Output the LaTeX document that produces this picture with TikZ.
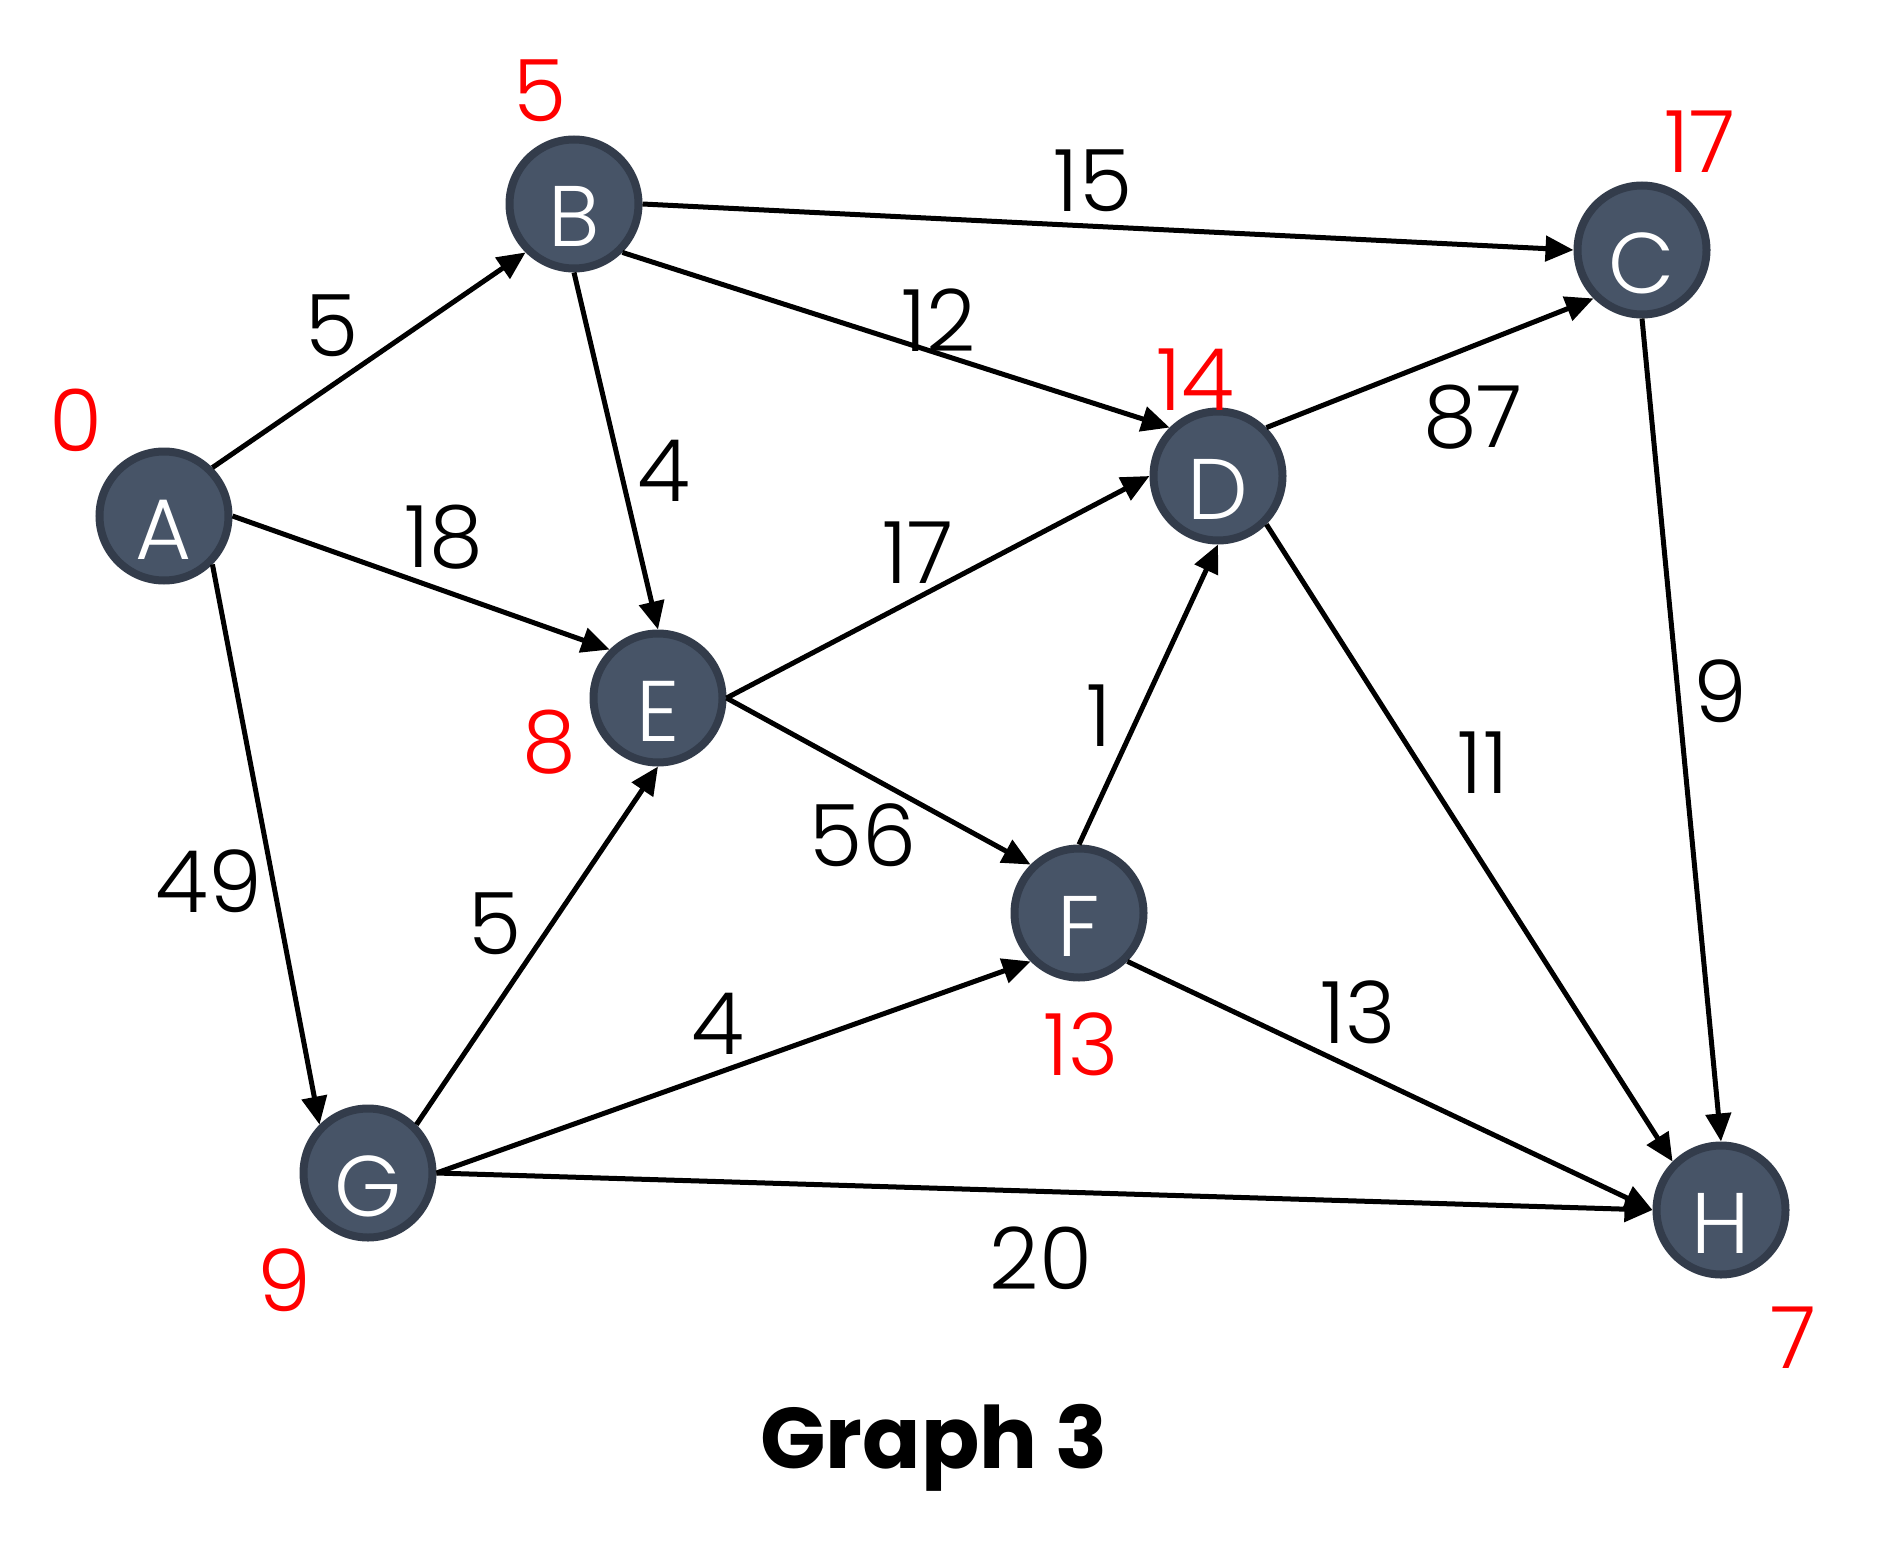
\documentclass[tikz,border=0pt]{standalone}
\usepackage{fontspec}
\setmainfont{Poppins}[UprightFont=* Light, BoldFont=* Bold]
\usetikzlibrary{arrows.meta}
\definecolor{nodefill}{HTML}{475467}
\definecolor{nodeedge}{HTML}{333C4B}
\definecolor{distred}{HTML}{FF0000}
\tikzset{
  vert/.style={circle, fill=nodefill, draw=nodeedge, line width=8pt, minimum size=129pt, inner sep=0pt, text=white, font=\fontsize{86}{96}\selectfont, text height=86pt, text depth=0pt},
  edge/.style={line width=5pt, -{Triangle[length=28pt, width=25pt]}},
  wlab/.style={font=\fontsize{86}{96}\selectfont, text=black, inner sep=0pt},
  dlab/.style={font=\fontsize{86}{96}\selectfont, text=distred, inner sep=0pt},
}
\begin{document}
\begin{tikzpicture}[x=1pt,y=-1pt]
\useasboundingbox (0,0) rectangle (1893,1549);
\node[vert] (A) at (164,516) {A};
\node[vert] (B) at (574,204) {B};
\node[vert] (C) at (1642,250) {C};
\node[vert] (D) at (1218,476) {D};
\node[vert] (E) at (658,698) {E};
\node[vert] (F) at (1079,913) {F};
\node[vert] (G) at (368,1173) {G};
\node[vert] (H) at (1721,1210) {H};

\draw[edge] (A.45) -- (B.225);
\draw[edge] (A.0) -- (E.135);
\draw[edge] (A.-45) -- (G.135);
\draw[edge] (B.0) -- (C.180);
\draw[edge] (B.-45) -- (D.135);
\draw[edge] (B.-90) -- (E.90);
\draw[edge] (E.0) -- (D.180);
\draw[edge] (E.0) -- (F.135);
\draw[edge] (D.45) -- (C.225);
\draw[edge] (D.-45) -- (H.135);
\draw[edge] (C.-90) -- (H.90);
\draw[edge] (F.90) -- (D.-90);
\draw[edge] (F.-45) -- (H.180);
\draw[edge] (G.45) -- (E.-90);
\draw[edge] (G.0) -- (F.225);
\draw[edge] (G.0) -- (H.180);

\node[wlab] (wAB) at (332,326) {5};
\node[wlab] (wBC) at (1093,181) {15};
\node[wlab] (wBD) at (939,320) {12};
\node[wlab] (wBE) at (664,471) {4};
\node[wlab] (wAE) at (444,537) {18};
\node[wlab] (wED) at (918,553) {17};
\node[wlab] (wDC) at (1473,417) {87};
\node[wlab] (wAG) at (209,881) {49};
\node[wlab] (wGE) at (495,924) {5};
\node[wlab] (wEF) at (863,835) {56};
\node[wlab] (wFD) at (1099,716) {1};
\node[wlab] (wCH) at (1720,691) {9};
\node[wlab] (wDH) at (1483,763) {11};
\node[wlab] (wGF) at (718,1024) {4};
\node[wlab] (wFH) at (1358,1012) {13};
\node[wlab] (wGH) at (1041,1258) {20};

\node[dlab] (dA) at (76,420) {0};
\node[dlab] (dB) at (540,91) {5};
\node[dlab] (dC) at (1700,142) {17};
\node[dlab] (dD) at (1195,380) {14};
\node[dlab] (dE) at (549,742) {8};
\node[dlab] (dF) at (1081,1044) {13};
\node[dlab] (dG) at (284,1280) {9};
\node[dlab] (dH) at (1793,1338) {7};

\node[font=\fontsize{86}{100}\selectfont\bfseries, inner sep=0pt] (title) at (934,1448) {Graph 3};
\end{tikzpicture}
\end{document}
